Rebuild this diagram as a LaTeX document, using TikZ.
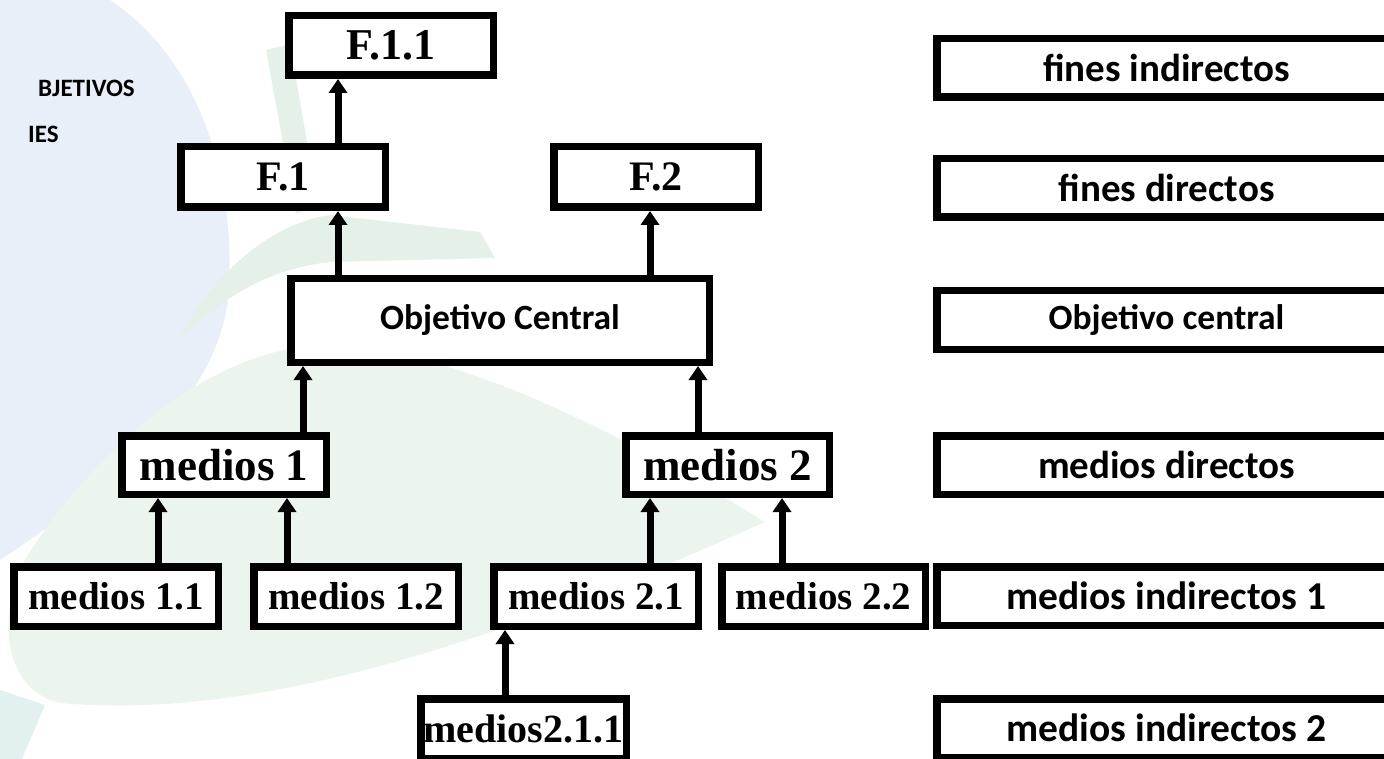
\documentclass[tikz,border=0pt]{standalone}
\usepackage{fontspec}
\setmainfont{Liberation Serif}
\newfontfamily\calib{Carlito}
\usetikzlibrary{arrows.meta,calc}
\definecolor{wmblue}{RGB}{232,239,249}
\definecolor{wmgreen}{RGB}{236,245,237}
\definecolor{wmgreenb}{RGB}{228,240,232}
\definecolor{wmteal}{RGB}{226,240,240}
\newcommand\fsz[1]{\fontsize{#1}{#1}\selectfont}
\tikzset{
  box/.style={draw=black, fill=white, line width=7.5pt, rectangle, inner sep=0pt, align=center},
  serifbox/.style={box, font=\bfseries},
  sansbox/.style={box, font=\calib\bfseries},
  leftlbl/.style={box, minimum width=204.5pt, minimum height=59.5pt},
  rightlbl/.style={sansbox, minimum width=459.5pt, minimum height=58.5pt},
  arr/.style={line width=7pt, -{Triangle[width=18pt,length=14pt]}},
  wmtext/.style={font=\calib\bfseries\fsz{25}, inner sep=0pt, anchor=base west},
}
\begin{document}
\begin{tikzpicture}[x=1pt,y=-1pt]
\clip (0,0) rectangle (1384,759);
\fill[white] (0,0) rectangle (1384,759);
% watermark shapes
\fill[wmblue] (0,0) -- (110,0) .. controls (200,60) and (238,180) .. (228,300)
  .. controls (215,400) and (120,480) .. (0,560) -- cycle;
\fill[wmgreen] (765,522) .. controls (600,420) and (450,350) .. (330,345)
  .. controls (200,345) and (80,470) .. (25,560)
  .. controls (-5,620) and (5,690) .. (60,703)
  .. controls (250,720) and (480,650) .. (765,522) -- cycle;
\fill[wmgreenb] (180,338) .. controls (220,262) and (280,222) .. (330,215)
  -- (480,232) -- (495,258) -- (330,262)
  .. controls (262,270) and (222,300) .. (180,338) -- cycle;
\fill[wmgreenb] (266,50) -- (290,44) -- (318,205) -- (296,214) -- cycle;
\fill[wmteal] (0,690) -- (45,705) -- (22,759) -- (0,759) -- cycle;
% faint title text
\node[wmtext] (t1) at (38,97) {BJETIVOS};
\node[wmtext] (t2) at (28,143) {IES};
% tree nodes
\node[leftlbl, serifbox, font=\bfseries\fsz{44}] (F11) at (391,45.5) {F.1.1};
\node[leftlbl, serifbox, font=\bfseries\fsz{42}, minimum height=60.5pt] (F1) at (283,177) {F.1};
\node[leftlbl, serifbox, font=\bfseries\fsz{42}, minimum height=60.5pt] (F2) at (656,177) {F.2};
\node[sansbox, font=\calib\bfseries\fsz{35.5}, minimum width=418.5pt, minimum height=83.5pt] (Obj) at (500,320.5) {Objetivo Central};
\node[leftlbl, serifbox, font=\bfseries\fsz{45}, minimum height=58.5pt] (m1) at (224,465) {medios 1};
\node[leftlbl, serifbox, font=\bfseries\fsz{45}, minimum height=58.5pt, minimum width=203.5pt] (m2) at (727.5,465) {medios 2};
\node[leftlbl, serifbox, font=\bfseries\fsz{39}] (m11) at (116,596.5) {medios 1.1};
\node[leftlbl, serifbox, font=\bfseries\fsz{39}] (m12) at (356,596.5) {medios 1.2};
\node[leftlbl, serifbox, font=\bfseries\fsz{39}] (m21) at (596,596.5) {medios 2.1};
\node[leftlbl, serifbox, font=\bfseries\fsz{39}, minimum width=203.5pt] (m22) at (823.5,596.5) {medios 2.2};
\node[leftlbl, serifbox, font=\bfseries\fsz{40}, minimum width=205.5pt] (m211) at (523.5,728.5) {medios2.1.1};
% right column
\node[rightlbl, font=\calib\bfseries\fsz{39}] (r1) at (1166.5,68) {fines indirectos};
\node[rightlbl, font=\calib\bfseries\fsz{39}] (r2) at (1166.5,188) {fines directos};
\node[rightlbl, font=\calib\bfseries\fsz{35.5}] (r3) at (1166.5,320) {Objetivo central};
\node[rightlbl, font=\calib\bfseries\fsz{39}] (r4) at (1166.5,465) {medios directos};
\node[rightlbl, font=\calib\bfseries\fsz{39.5}] (r5) at (1166.5,596) {medios indirectos 1};
\node[rightlbl, font=\calib\bfseries\fsz{39.5}] (r6) at (1166.5,728) {medios indirectos 2};
% connectors
\draw[arr] ([xshift=55pt]F1.north) -- ([xshift=55pt]F1.north |- F11.south);
\draw[arr] ([xshift=55pt]F1.south |- Obj.north) -- ([xshift=55pt]F1.south);
\draw[arr] ([xshift=-6pt]F2.south |- Obj.north) -- ([xshift=-6pt]F2.south);
\draw[arr] ([xshift=79pt]m1.north) -- ([xshift=79pt]m1.north |- Obj.south);
\draw[arr] ([xshift=-29.5pt]m2.north) -- ([xshift=-29.5pt]m2.north |- Obj.south);
\draw[arr] ([xshift=42pt]m11.north) -- ([xshift=42pt]m11.north |- m1.south);
\draw[arr] ([xshift=-69pt]m12.north) -- ([xshift=-69pt]m12.north |- m1.south);
\draw[arr] ([xshift=54pt]m21.north) -- ([xshift=54pt]m21.north |- m2.south);
\draw[arr] ([xshift=-41.5pt]m22.north) -- ([xshift=-41.5pt]m22.north |- m2.south);
\draw[arr] ([xshift=-18.5pt]m211.north) -- ([xshift=-18.5pt]m211.north |- m21.south);
\end{tikzpicture}
\end{document}
